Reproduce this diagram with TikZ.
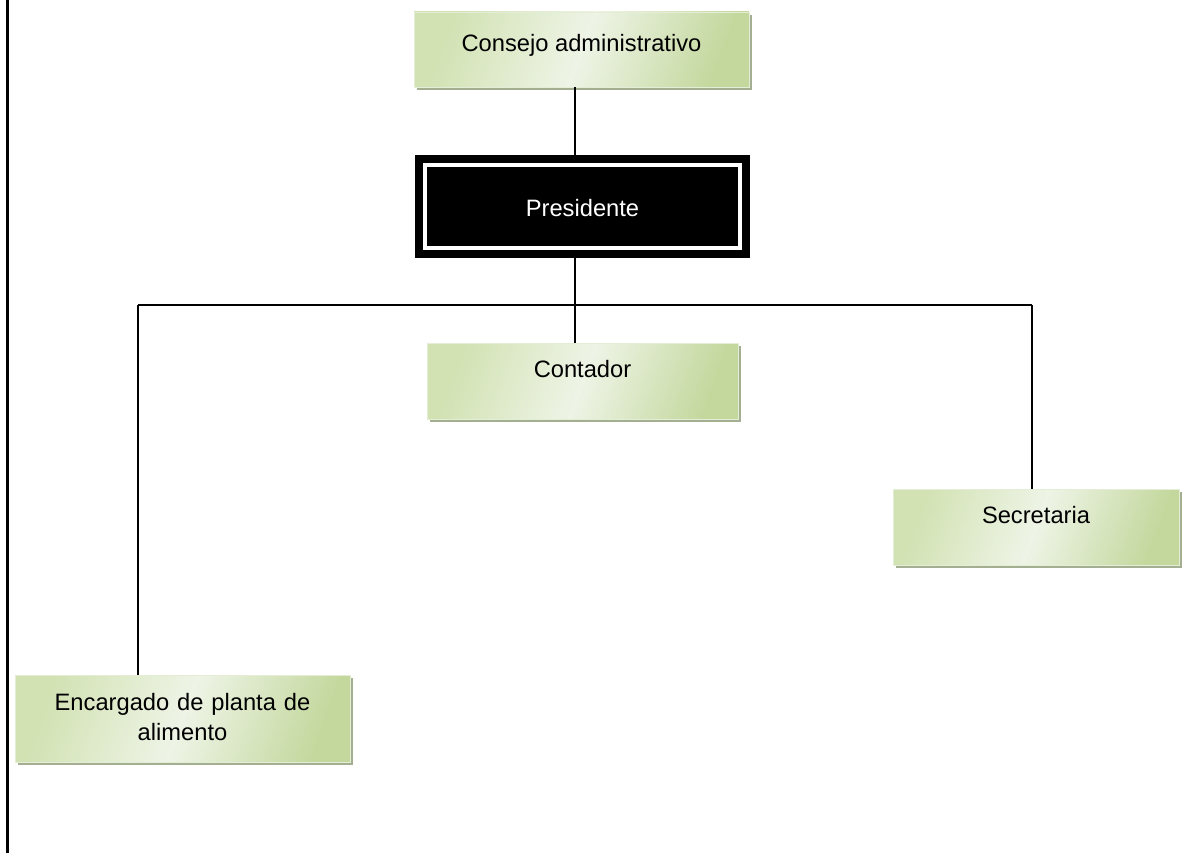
\documentclass[tikz,border=0pt]{standalone}
\usepackage{fontspec}
\setmainfont{Liberation Sans}
\usetikzlibrary{shadows}
\definecolor{boxgreen}{HTML}{D2E2B3}
\definecolor{boxdark}{HTML}{C4D89E}
\definecolor{boxlight}{HTML}{EEF4E6}
\definecolor{boxshadow}{HTML}{A4AE90}
\definecolor{boxedge}{HTML}{E4EDD6}
\tikzset{
  orgbox/.style={draw=boxedge,line width=0.8pt,inner sep=0pt,
    left color=boxgreen,right color=boxdark,middle color=boxlight,shading angle=70,
    drop shadow={shadow xshift=3pt,shadow yshift=-3pt,fill=boxshadow,opacity=1},
    font=\fontsize{23.7}{30}\selectfont,align=center},
  link/.style={line width=1.8pt}
}
\begin{document}
\begin{tikzpicture}[x=1pt,y=-1pt]
\useasboundingbox (0,0) rectangle (1198,853);
\draw[line width=3pt] (7,0)--(7,853);
\node[orgbox,minimum width=335pt,text height=39.5pt,text depth=35.5pt] (cons) at (581.5,49.5) {Consejo administrativo};
\node[fill=black,inner sep=0pt,minimum width=335pt,text height=61.5pt,text depth=41.5pt,text=white,font=\fontsize{23.7}{30}\selectfont] (pres) at (582.5,206.5) {Presidente};
\draw[white,line width=4pt] ([shift={(10pt,-10pt)}]pres.north west) rectangle ([shift={(-10pt,10pt)}]pres.south east);
\node[orgbox,minimum width=311pt,text height=34.5pt,text depth=41.5pt] (cont) at (582.5,381) {Contador};
\node[orgbox,minimum width=286pt,text height=34.5pt,text depth=41.5pt] (secr) at (1036,527) {Secretaria};
\node[orgbox,text width=335pt,text height=35.5pt,text depth=51.5pt] (enc) at (182.5,718.5) {Encargado de planta de\\alimento};
\coordinate (bus) at (575,305);
\coordinate (busL) at (138,305);
\coordinate (busR) at (1032,305);
\draw[link] (cons.south -| bus)--(pres.north -| bus);
\draw[link] (pres.south -| bus)--(bus)--(cont.north -| bus);
\draw[link] (busL)--(busR);
\draw[link] (busL)--(enc.north -| busL);
\draw[link] (busR)--(secr.north -| busR);
\end{tikzpicture}
\end{document}
